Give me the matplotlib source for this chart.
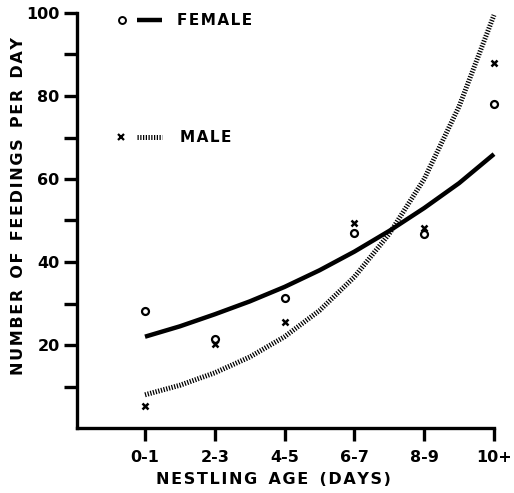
import matplotlib
matplotlib.use("Agg")
import matplotlib.pyplot as plt
from matplotlib.ticker import FixedLocator

# nestling age classes
ages = ["0-1", "2-3", "4-5", "6-7", "8-9", "10+"]

# observed feedings per day
female_obs = [28.2, 21.5, 31.3, 47.0, 46.8, 78.0]
male_obs = [5.3, 20.3, 25.6, 49.4, 48.2, 88.0]

# fitted curves at half-class steps
curve_x = [0, 0.5, 1, 1.5, 2, 2.5, 3, 3.5, 4, 4.5, 5]
female_fit = [22.0, 24.5, 27.4, 30.5, 34.0, 38.0, 42.5, 47.5, 53.0, 59.0, 66.0]
male_fit = [8.0, 10.3, 13.3, 17.1, 22.0, 28.3, 36.4, 46.8, 60.0, 77.5, 99.5]


def spaced(s):
    # wide letter spacing like the original lettering
    return "  ".join("\u200a".join(w) for w in s.split())


W, H = 514, 493
fig = plt.figure(figsize=(W / 100, H / 100), dpi=100)
ax = fig.add_axes([77 / W, 1 - 428 / H, (494 - 77) / W, (428 - 13) / H])

xpos = list(range(len(ages)))
ax.plot(curve_x, female_fit, color="black", lw=3.2, solid_capstyle="butt",
        clip_on=False)
ax.plot(curve_x, male_fit, color="black", lw=3.6, linestyle=(0, (0.25, 0.3)),
        dash_capstyle="butt", clip_on=False)
ax.plot(xpos, female_obs, "o", ms=5, mfc="white", mec="black", mew=1.6,
        clip_on=False)
ax.plot(xpos, male_obs, "x", ms=5, color="black", mew=1.8, clip_on=False)

ax.set_xlim(-0.974, 5)
ax.set_ylim(0, 100)

ax.spines["top"].set_visible(False)
ax.spines["right"].set_visible(False)
for s in ("left", "bottom"):
    ax.spines[s].set_linewidth(2.4)

ax.set_xticks(xpos)
ax.set_xticklabels(ages)
ax.yaxis.set_major_locator(FixedLocator([20, 40, 60, 80, 100]))
ax.yaxis.set_minor_locator(FixedLocator([10, 30, 50, 70, 90]))
ax.tick_params(axis="both", which="both", length=9.5, width=2.4, direction="out")
ax.tick_params(axis="x", pad=6, labelsize=11.5)
ax.tick_params(axis="y", pad=3, labelsize=11.5)
for lab in ax.get_xticklabels() + ax.get_yticklabels():
    lab.set_fontweight("bold")

ax.set_xlabel(spaced("NESTLING AGE (DAYS)"), fontsize=11.5, fontweight="bold")
ax.xaxis.set_label_coords(0.472, -0.105)
ax.set_ylabel(spaced("NUMBER OF FEEDINGS PER DAY"), fontsize=11.5,
              fontweight="bold")
ax.yaxis.set_label_coords(-0.122, 0.535)

# key
tr = ax.transAxes
ax.plot([0.108], [0.983], "o", ms=5, mfc="white", mec="black", mew=1.4,
        transform=tr, clip_on=False)
ax.plot([0.144, 0.204], [0.983, 0.983], color="black", lw=3.2,
        solid_capstyle="butt", transform=tr, clip_on=False)
ax.text(0.24, 0.983, spaced("FEMALE"), transform=tr, fontsize=11,
        fontweight="bold", va="center", ha="left")
ax.plot([0.106], [0.701], "x", ms=4.5, color="black", mew=1.6, transform=tr)
ax.plot([0.144, 0.204], [0.701, 0.701], color="black", lw=3.6,
        linestyle=(0, (0.25, 0.3)), dash_capstyle="butt", transform=tr)
ax.text(0.247, 0.701, spaced("MALE"), transform=tr, fontsize=11,
        fontweight="bold", va="center", ha="left")

fig.savefig("out.png", dpi=100)
